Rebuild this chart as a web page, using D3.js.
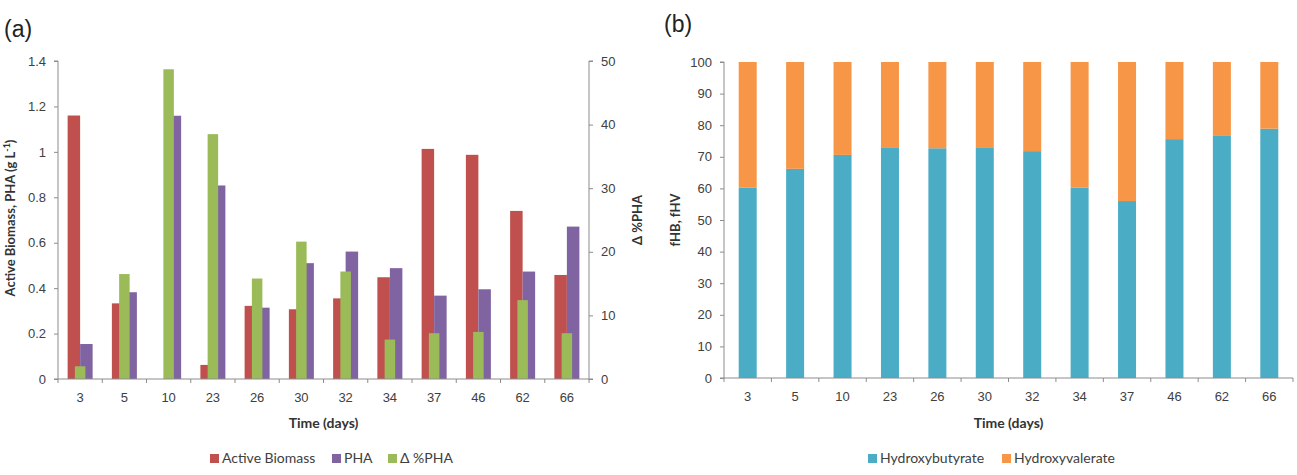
<!DOCTYPE html>
<html>
<head>
<meta charset="utf-8">
<script src="https://cdn.jsdelivr.net/npm/d3@7"></script>
<style>
  body { margin: 0; background: #fff; }
  svg { display: block; font-family: Lato, "Open Sans", sans-serif; }
  .tick text { fill: #404040; font-size: 13px; }
  .axis path, .axis line { stroke: #8c8c8c; }
</style>
</head>
<body>
<svg id="chart" width="1297" height="475"></svg>
<script>
const days = ["3", "5", "10", "23", "26", "30", "32", "34", "37", "46", "62", "66"];
const activeBiomass = [1.16, 0.333, 0, 0.062, 0.322, 0.307, 0.355, 0.448, 1.013, 0.987, 0.74, 0.458];
const pha = [0.154, 0.382, 1.159, 0.852, 0.314, 0.51, 0.561, 0.488, 0.367, 0.395, 0.473, 0.671];
const deltaPha = [2.0, 16.5, 48.7, 38.5, 15.8, 21.6, 16.9, 6.2, 7.2, 7.4, 12.4, 7.2];
const hydroxybutyrate = [60.3, 66.2, 70.6, 72.8, 72.7, 72.8, 71.8, 60.3, 56.0, 75.6, 76.6, 78.9];
const hydroxyvalerate = hydroxybutyrate.map(function(d) { return 100 - d; });

const leftTicks = [0, 0.2, 0.4, 0.6, 0.8, 1, 1.2, 1.4];
const rightTicks = [0, 10, 20, 30, 40, 50];
const pctTicks = [0, 10, 20, 30, 40, 50, 60, 70, 80, 90, 100];

const COLORS = {
  bio: "#c0504d",
  pha: "#8064a2",
  delta: "#9bbb59",
  hb: "#4bacc6",
  hv: "#f79646"
};

var svg = d3.select("#chart");

// ---------- panel (a) ----------
var a = { left: 58, right: 589, top: 61, bottom: 379 };

var xA = d3.scaleBand().domain(days).range([a.left, a.right]).padding(0);
var yA = d3.scaleLinear().domain([0, 1.4]).range([a.bottom, a.top]);
var yA2 = d3.scaleLinear().domain([0, 50]).range([a.bottom, a.top]);

const BAR_W = 12.5;
const DELTA_W = 10.5;

var xSub = d3.scaleBand().domain(["bio", "pha"])
  .range([xA.bandwidth() / 2 - BAR_W, xA.bandwidth() / 2 + BAR_W]);

var gA = svg.append("g");

function drawBars(g, values, x, key, width, yScale, offset) {
  g.append("g").selectAll("rect")
    .data(values)
    .enter().append("rect")
    .attr("x", function(d, i) { return x(days[i]) + offset; })
    .attr("y", function(d) { return yScale(d); })
    .attr("width", width)
    .attr("height", function(d) { return yScale(0) - yScale(d); })
    .attr("fill", COLORS[key]);
}

drawBars(gA, activeBiomass, xA, "bio", xSub.bandwidth(), yA, xSub("bio"));
drawBars(gA, pha, xA, "pha", xSub.bandwidth(), yA, xSub("pha"));
drawBars(gA, deltaPha, xA, "delta", DELTA_W, yA2, xA.bandwidth() / 2 - DELTA_W / 2);

gA.append("g").attr("class", "axis")
  .attr("transform", "translate(" + a.left + ",0)")
  .call(d3.axisLeft(yA).tickValues(leftTicks).tickSize(4).tickPadding(8)
    .tickFormat(function(d) { return d === 0 || d === 1 ? d : d.toFixed(1); }))
  .call(function(g) { g.select(".domain").attr("d", "M-4," + a.top + "H0V" + a.bottom + "H-4"); });

gA.append("g").attr("class", "axis")
  .attr("transform", "translate(" + a.right + ",0)")
  .call(d3.axisRight(yA2).tickValues(rightTicks).tickSize(4).tickPadding(8))
  .call(function(g) { g.select(".domain").attr("d", "M4," + a.top + "H0V" + a.bottom + "H4"); });

function drawCategoryAxis(g, x, box) {
  var axis = g.append("g").attr("class", "axis")
    .attr("transform", "translate(0," + box.bottom + ")")
    .call(d3.axisBottom(x).tickSize(0).tickPadding(14));
  axis.select(".domain").attr("d", "M" + box.left + ",0H" + box.right);
  // boundary ticks between categories
  var edges = days.map(function(d) { return x(d); }).concat([box.right]);
  axis.selectAll(".edge")
    .data(edges)
    .enter().append("line")
    .attr("class", "edge")
    .attr("x1", function(d) { return d; })
    .attr("x2", function(d) { return d; })
    .attr("y1", 0)
    .attr("y2", 4)
    .attr("stroke", "#8c8c8c");
}

drawCategoryAxis(gA, xA, a);

svg.append("text")
  .attr("x", 4).attr("y", 37)
  .attr("font-size", "23px").attr("fill", "#222")
  .attr("font-family", "Liberation Sans, Arial, sans-serif")
  .text("(a)");

svg.append("text")
  .attr("transform", "translate(15," + ((a.top + a.bottom) / 2 - 2) + ") rotate(-90)")
  .attr("text-anchor", "middle")
  .attr("font-size", "13px").attr("font-weight", "bold").attr("fill", "#333")
  .text("Active Biomass, PHA (g L")
  .append("tspan").attr("dy", -5).attr("font-size", "9px").text("-1")
  .select(function() { return this.parentNode; })
  .append("tspan").attr("dy", 5).text(")");

svg.append("text")
  .attr("transform", "translate(642," + ((a.top + a.bottom) / 2) + ") rotate(-90)")
  .attr("text-anchor", "middle")
  .attr("font-size", "13px").attr("font-weight", "bold").attr("fill", "#333")
  .text("Δ %PHA");

svg.append("text")
  .attr("x", (a.left + a.right) / 2).attr("y", 428)
  .attr("text-anchor", "middle")
  .attr("font-size", "14px").attr("font-weight", "bold").attr("fill", "#333")
  .text("Time (days)");

// ---------- panel (b) ----------
var b = { left: 724, right: 1293, top: 62, bottom: 378 };

var xB = d3.scaleBand().domain(days).range([b.left, b.right]).padding(0);
var yB = d3.scaleLinear().domain([0, 100]).range([b.bottom, b.top]);

const STACK_W = 18;

var stackData = days.map(function(d, i) {
  return { day: d, hb: hydroxybutyrate[i], hv: hydroxyvalerate[i] };
});
var series = d3.stack().keys(["hb", "hv"])(stackData);

var gB = svg.append("g");

gB.selectAll("g.layer")
  .data(series)
  .enter().append("g")
  .attr("class", "layer")
  .attr("fill", function(s) { return COLORS[s.key]; })
  .selectAll("rect")
  .data(function(s) { return s; })
  .enter().append("rect")
  .attr("x", function(d) { return xB(d.data.day) + xB.bandwidth() / 2 - STACK_W / 2; })
  .attr("y", function(d) { return yB(d[1]); })
  .attr("width", STACK_W)
  .attr("height", function(d) { return yB(d[0]) - yB(d[1]); });

gB.append("g").attr("class", "axis")
  .attr("transform", "translate(" + b.left + ",0)")
  .call(d3.axisLeft(yB).tickValues(pctTicks).tickSize(4).tickPadding(8))
  .call(function(g) { g.select(".domain").attr("d", "M-4," + b.top + "H0V" + b.bottom + "H-4"); });

drawCategoryAxis(gB, xB, b);

svg.append("text")
  .attr("x", 664).attr("y", 32)
  .attr("font-size", "23px").attr("fill", "#222")
  .attr("font-family", "Liberation Sans, Arial, sans-serif")
  .text("(b)");

svg.append("text")
  .attr("transform", "translate(680," + ((b.top + b.bottom) / 2) + ") rotate(-90)")
  .attr("text-anchor", "middle")
  .attr("font-size", "13px").attr("font-weight", "bold").attr("fill", "#333")
  .text("fHB, fHV");

svg.append("text")
  .attr("x", (b.left + b.right) / 2).attr("y", 428)
  .attr("text-anchor", "middle")
  .attr("font-size", "14px").attr("font-weight", "bold").attr("fill", "#333")
  .text("Time (days)");

// ---------- legends ----------
function drawLegend(items, x0, gaps) {
  var g = svg.append("g").attr("transform", "translate(" + x0 + ",463)");
  var xPos = 0;
  items.forEach(function(item, i) {
    g.append("rect").attr("x", xPos).attr("y", -9).attr("width", 9).attr("height", 9)
      .attr("fill", COLORS[item.key]);
    g.append("text").attr("x", xPos + 12).attr("y", 0)
      .attr("font-size", "14px").attr("fill", "#404040").text(item.label);
    xPos += gaps[i];
  });
}

drawLegend([
  { key: "bio", label: "Active Biomass" },
  { key: "pha", label: "PHA" },
  { key: "delta", label: "Δ %PHA" }
], 210, [122, 56, 0]);

drawLegend([
  { key: "hb", label: "Hydroxybutyrate" },
  { key: "hv", label: "Hydroxyvalerate" }
], 868, [134, 0]);
</script>
</body>
</html>
